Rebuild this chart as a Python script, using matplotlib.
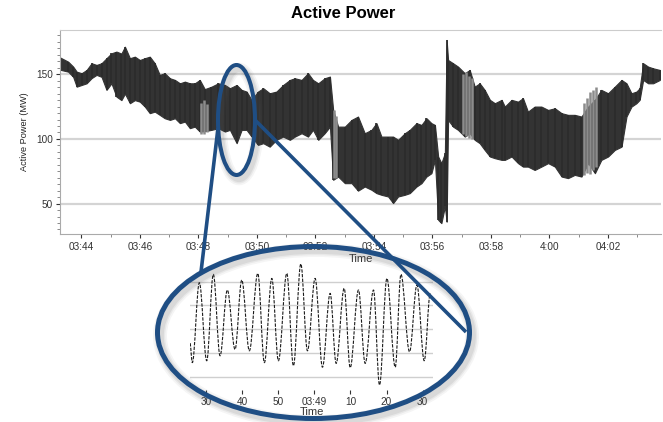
import matplotlib
matplotlib.use('Agg')
import matplotlib.pyplot as plt
from matplotlib.patches import Ellipse, PathPatch
from matplotlib.path import Path
from matplotlib.lines import Line2D

plt.rcParams['font.family'] = ['Liberation Sans', 'DejaVu Sans']

# ---------------- data (main chart: envelope of the oscillating power signal) -------------
# time in minutes after 03:00
time_min = [43.27, 43.55, 43.72, 43.84, 44.01, 44.18, 44.35, 44.52, 44.69, 44.86,
            45.03, 45.20, 45.37, 45.49, 45.66, 45.83, 46.00, 46.17, 46.34, 46.51,
            46.68, 46.85, 47.03, 47.20, 47.37, 47.54, 47.71, 47.88, 48.05, 48.22,
            48.45, 48.68, 48.91, 49.08, 49.31, 49.48, 49.65, 49.82, 50.04, 50.22,
            50.44, 50.67, 50.90, 51.13, 51.30, 51.53, 51.75, 51.92, 52.10, 52.32,
            52.50, 52.61, 52.78, 53.01, 53.24, 53.46, 53.69, 53.92, 54.09, 54.26,
            54.49, 54.66, 54.83, 55.06, 55.23, 55.46, 55.63, 55.80, 55.97, 56.09,
            56.20, 56.31, 56.43, 56.49, 56.54, 56.71, 56.88, 57.11, 57.28, 57.45,
            57.62, 57.79, 57.97, 58.14, 58.37, 58.48, 58.71, 58.93, 59.10, 59.27,
            59.50, 59.73, 59.96, 60.19, 60.42, 60.64, 60.87, 61.10, 61.33, 61.56,
            61.78, 62.01, 62.24, 62.47, 62.64, 62.81, 62.98, 63.09, 63.21, 63.38,
            63.55, 63.78]
power_upper = [163.0, 159.7, 155.9, 152.0, 150.8, 153.3, 158.5, 157.2, 158.5, 162.4,
               166.2, 167.5, 166.0, 171.3, 162.4, 163.6, 161.0, 162.4, 163.6, 158.5,
               149.5, 150.8, 146.9, 145.6, 143.0, 144.3, 143.0, 143.0, 145.6, 138.5,
               140.4, 143.0, 141.7, 139.2, 141.7, 137.9, 136.6, 130.2, 136.6, 139.2,
               135.3, 136.6, 141.7, 145.6, 146.9, 145.6, 150.8, 145.6, 143.0, 146.9,
               148.2, 122.4, 109.5, 109.5, 114.7, 117.3, 104.4, 107.0, 112.2, 101.8,
               101.8, 101.8, 99.3, 104.4, 107.0, 112.2, 110.8, 116.0, 112.2, 110.8,
               86.4, 81.3, 89.0, 176.5, 161.0, 158.5, 155.9, 150.8, 153.3, 140.4,
               143.0, 137.9, 130.2, 127.6, 130.2, 125.0, 130.2, 128.8, 131.5, 121.1,
               125.0, 125.0, 122.4, 123.7, 119.9, 118.6, 118.6, 117.3, 125.0, 130.2,
               137.9, 135.3, 140.4, 145.6, 143.0, 135.3, 136.6, 139.2, 158.5, 155.9,
               154.6, 153.3]
power_lower = [153.5, 152.0, 148.0, 140.4, 141.7, 143.0, 147.0, 149.5, 148.0, 137.9,
               143.0, 132.7, 130.0, 135.0, 127.6, 130.0, 128.8, 125.0, 119.9, 121.1,
               118.6, 116.0, 114.7, 116.0, 112.2, 113.4, 108.3, 109.5, 105.7, 106.0,
               107.0, 108.3, 105.7, 107.0, 96.7, 107.0, 107.0, 101.8, 95.4, 96.7,
               94.0, 99.3, 101.8, 99.3, 101.8, 104.4, 101.8, 107.0, 99.3, 104.4,
               109.5, 68.4, 70.9, 65.8, 65.8, 60.0, 63.2, 60.7, 58.1, 56.8,
               55.5, 50.4, 55.5, 56.8, 58.1, 63.2, 65.8, 70.9, 73.5, 83.8,
               37.5, 34.9, 47.8, 36.0, 114.7, 109.5, 107.0, 101.8, 104.4, 99.3,
               96.7, 91.5, 86.4, 85.1, 83.8, 83.8, 86.4, 81.3, 78.6, 78.6,
               76.0, 78.6, 81.3, 78.6, 70.9, 69.7, 72.2, 70.9, 81.3, 73.5,
               83.8, 86.4, 91.5, 94.0, 117.3, 125.0, 127.6, 130.2, 145.6, 143.0,
               143.0, 145.6]

# lighter grey streaks visible inside the band
streak_time = [48.10, 48.20, 48.30, 52.63, 52.70, 57.05, 57.15, 57.25, 57.35,
               61.20, 61.30, 61.40, 61.50, 61.60]
streak_top = [128.0, 130.0, 127.0, 122.0, 118.0, 150.0, 152.0, 149.0, 147.0,
              128.0, 132.0, 136.0, 138.0, 140.0]
streak_bottom = [104.0, 104.0, 105.0, 70.0, 70.0, 104.0, 102.0, 101.0, 100.0,
                 72.0, 74.0, 73.0, 76.0, 78.0]

y_ticks = [50, 100, 150]
x_major = [44, 46, 48, 50, 52, 54, 56, 58, 60, 62]
x_labels = ['03:44', '03:46', '03:48', '03:50', '03:52', '03:54', '03:56', '03:58', '4:00', '04:02']

# ---------------- data (zoomed inset: extrema of the oscillation) -------------
# seconds after 03:48:00
inset_t = [25.47, 26.11, 28.06, 30.11, 31.94, 33.81, 35.83, 37.97, 39.83, 41.94,
           44.28, 46.11, 48.17, 50.00, 52.33, 54.17, 56.22, 58.06, 60.19, 62.22,
           64.36, 66.03, 68.25, 69.92, 72.22, 74.08, 76.39, 78.06, 80.11, 82.42,
           84.00, 86.39, 88.44, 90.47, 92.14]
inset_v = [114.1, 105.9, 139.6, 106.7, 143.1, 108.8, 136.5, 111.5, 140.7, 110.9,
           143.5, 105.9, 141.4, 106.7, 143.5, 104.6, 147.5, 110.9, 141.4, 104.0,
           135.1, 105.6, 137.2, 103.8, 136.5, 105.6, 136.5, 96.5, 141.4, 104.0,
           143.1, 110.5, 138.6, 106.7, 135.1]
inset_grid = [100, 110, 120, 130, 140]
inset_ticks = [30, 40, 50, 60, 70, 80, 90]
inset_labels = ['30', '40', '50', '03:49', '10', '20', '30']

W, H = 663, 422
fig = plt.figure(figsize=(W / 100, H / 100), dpi=100)

# ---------------- main axes -------------
ax = fig.add_axes([60 / W, 1 - 234 / H, 601 / W, 204 / H])
ax.set_xlim(43.27, 63.82)
ax.set_ylim(26.5, 184.2)
for yv in y_ticks:
    ax.axhline(yv, color='#d4d4d4', lw=1.6, zorder=0)
ax.fill_between(time_min, power_lower, power_upper,
                color='#333333', edgecolor='#333333', lw=0.8, zorder=2)
ax.vlines(time_min, power_lower, power_upper, color='#2b2b2b', lw=1.2, zorder=2)
ax.vlines(streak_time, streak_bottom, streak_top, color='#8c8c8c', lw=1.8, zorder=3)

ax.set_yticks(y_ticks)
ax.set_yticks(range(30, 185, 5), minor=True)
ax.set_xticks(x_major)
ax.set_xticklabels(x_labels)
ax.set_xticks(range(44, 64), minor=True)
ax.tick_params(axis='both', which='major', labelsize=7.2, colors='#333333',
               length=3, width=0.8, pad=2)
ax.tick_params(axis='both', which='minor', length=2, width=0.6, colors='#777777')
ax.tick_params(axis='x', which='major', pad=3)
ax.spines['right'].set_visible(False)
ax.spines['top'].set_color('#cccccc')
ax.spines['left'].set_color('#aaaaaa')
ax.spines['bottom'].set_color('#aaaaaa')
ax.set_ylabel('Active Power (MW)', fontsize=6.6, color='#222222', labelpad=5)
ax.set_xlabel('Time', fontsize=8, color='#333333', labelpad=1)

fig.text(343 / W, 1 - 14 / H, 'Active Power', ha='center', va='center',
         fontsize=12, fontweight='bold', color='#000000')

# ---------------- zoomed inset -------------
ins = fig.add_axes([190 / W, 1 - 390 / H, 243 / W, 128 / H])
ins.patch.set_alpha(0)
ins.set_xlim(25.47, 92.9)
ins.set_ylim(94.4, 148.3)
for g in inset_grid:
    ins.axhline(g, color='#cfcfcf', lw=1.0, zorder=0)
verts = [(inset_t[0], inset_v[0])]
codes = [Path.MOVETO]
for i in range(len(inset_t) - 1):
    t0, v0, t1, v1 = inset_t[i], inset_v[i], inset_t[i + 1], inset_v[i + 1]
    dt = t1 - t0
    verts += [(t0 + 0.36 * dt, v0), (t1 - 0.36 * dt, v1), (t1, v1)]
    codes += [Path.CURVE4] * 3
ins.add_patch(PathPatch(Path(verts, codes), fill=False, lw=0.8,
                        ls=(0, (3, 1.2)), ec='#1a1a1a', zorder=2))
for s in ins.spines.values():
    s.set_visible(False)
ins.set_yticks([])
ins.set_xticks(inset_ticks)
ins.set_xticklabels(inset_labels)
ins.tick_params(axis='x', labelsize=7.2, colors='#333333', length=3, width=0.8, pad=2)
ins.set_xlabel('Time', fontsize=8, color='#333333', labelpad=0)

# ---------------- magnifier overlay -------------
ov = fig.add_axes([0, 0, 1, 1], zorder=10)
ov.set_xlim(0, W)
ov.set_ylim(H, 0)
ov.axis('off')
ov.patch.set_alpha(0)
navy = '#1f4e84'
for k, a in [(9, 0.06), (6.5, 0.08), (4.5, 0.10)]:
    ov.add_patch(Ellipse((239, 124), 37, 110, fill=False, ec='#555555', lw=k, alpha=a))
    ov.add_patch(Ellipse((316, 336), 312, 172, fill=False, ec='#555555', lw=k + 1, alpha=a))
ov.add_line(Line2D([218, 201], [128, 272], color=navy, lw=2.6, solid_capstyle='butt'))
ov.add_line(Line2D([255, 466], [120, 332], color=navy, lw=2.6, solid_capstyle='butt'))
ov.add_patch(Ellipse((236.5, 120), 37, 110, fill=False, ec=navy, lw=2.9))
ov.add_patch(Ellipse((313.5, 332.5), 312, 172, fill=False, ec=navy, lw=3.6))

fig.savefig('out.png', dpi=100)
